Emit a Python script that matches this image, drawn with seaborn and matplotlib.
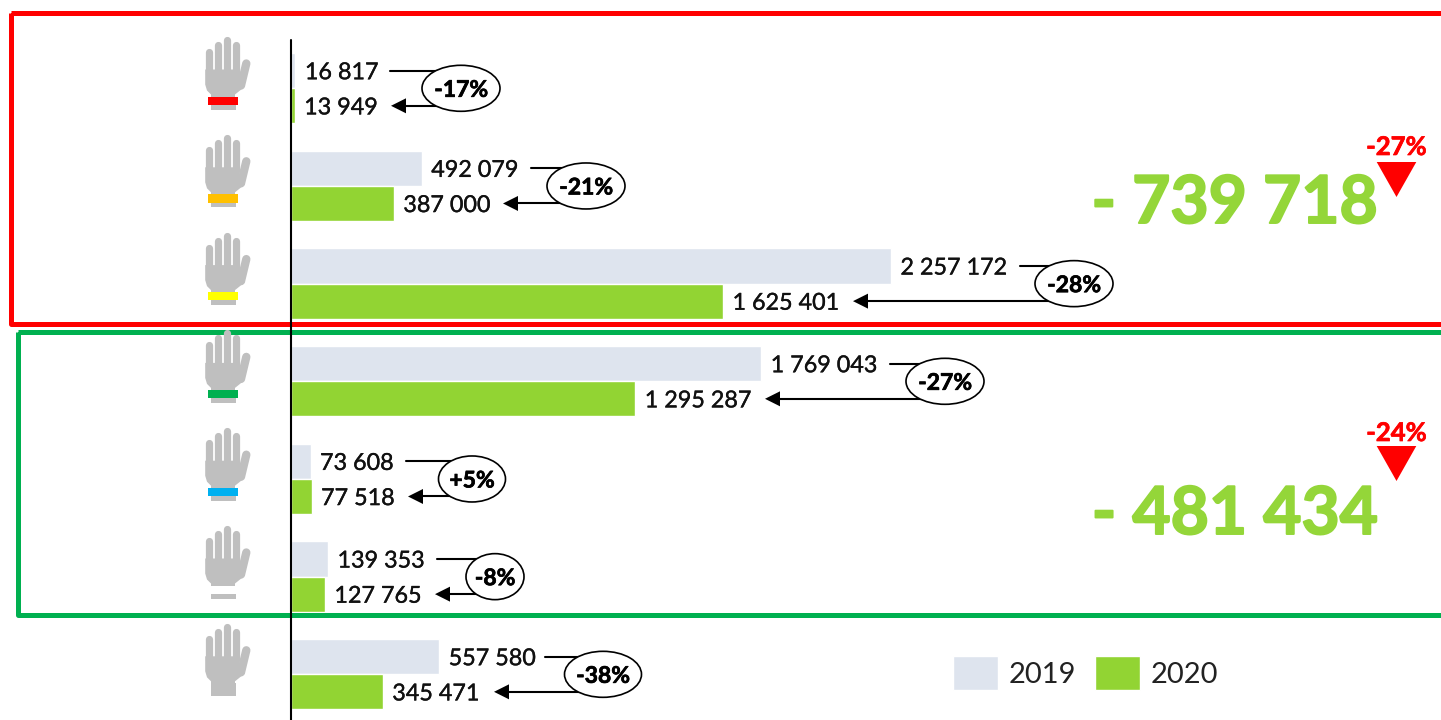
import pandas as pd
import matplotlib
matplotlib.use('Agg')
import matplotlib.pyplot as plt
import matplotlib.patheffects as pe
import seaborn as sns
from matplotlib.patches import Ellipse, Polygon, Rectangle
from matplotlib.transforms import Affine2D

# Values
bands = ['red', 'orange', 'yellow', 'green', 'blue', 'white', 'none']
values_2019 = [16817, 492079, 2257172, 1769043, 73608, 139353, 557580]
values_2020 = [13949, 387000, 1625401, 1295287, 77518, 127765, 345471]
changes = ['-17%', '-21%', '-28%', '-27%', '+5%', '-8%', '-38%']
totals = ['- 739 718', '- 481 434']
total_changes = ['-27%', '-24%']

# Colours
band_colors = ['#FF0000', '#FFC000', '#FFFF00', '#00B050', '#00B0F0', '#FFFFFF', None]
col_2019 = '#DEE4EE'
col_2020 = '#92D433'
col_total = '#94D639'
col_hand = '#BFBFBF'

# Annotation layout, in pixels of the final image
line_starts = [390, 531, 1020, 890, 406, 437, 545]
arrow_tips = [391, 503, 853, 765, 408, 435, 494]
ellipse_x = [461, 586, 1074, 945, 472, 495, 603]
ellipse_w = [78, 78, 78, 78, 67, 58, 77]

W, H = 1441, 720
ZERO_PX = 291
PX_PER_UNIT = 600 / 2257172
ROW_TOP = 88.3
ROW_PX = 97.67

df = pd.DataFrame({
    'band': bands * 2,
    'visits': values_2019 + values_2020,
    'year': ['2019'] * 7 + ['2020'] * 7,
})

sns.set_theme(style='white')
plt.rcParams['font.family'] = ['Lato', 'DejaVu Sans']

fig = plt.figure(figsize=(W / 100, H / 100), dpi=100)
ax = fig.add_axes([0, 0, 1, 1])

sns.barplot(data=df, y='band', x='visits', hue='year', order=bands,
            palette={'2019': col_2019, '2020': col_2020}, saturation=1,
            width=0.72, gap=0, ax=ax)

ax.set_xlim(-ZERO_PX / PX_PER_UNIT, (W - ZERO_PX) / PX_PER_UNIT)
ax.set_ylim((H - ROW_TOP) / ROW_PX, -ROW_TOP / ROW_PX)
ax.set_axis_off()

# image pixels, y going down
px = Affine2D().scale(1, -1).translate(0, H)


def heavy(width, color):
    # Lato bold is lighter than the original face
    return [pe.withStroke(linewidth=width, foreground=color)]


def draw_hand(dy, band):
    fingers = [(208.8, 52.5), (217.8, 45.5), (226.7, 40.5), (235.7, 45.5)]
    for fx, ftop in fingers:
        ax.plot([fx, fx], [ftop + dy, 74 + dy], color=col_hand, lw=5.2,
                solid_capstyle='round', transform=px, zorder=5)
    ax.plot([246.3, 241], [64 + dy, 86 + dy], color=col_hand, lw=6.0,
            solid_capstyle='round', transform=px, zorder=5)
    palm = [(205.2, 70), (239.4, 70), (239.4, 79), (245, 87), (235, 95), (235, 98),
            (211, 98), (211, 95), (207, 91), (205.2, 85)]
    ax.add_patch(Polygon([(x, y + dy) for x, y in palm], closed=True, fc=col_hand,
                         ec='none', transform=px, zorder=5))
    ax.add_patch(Rectangle((211, 97 + dy), 25, 13, fc=col_hand, ec='none',
                           transform=px, zorder=5))
    if band is not None:
        ax.add_patch(Rectangle((207.7, 97 + dy), 30.6, 8.3, fc=band, ec='none',
                               transform=px, zorder=6))


# Frames round the groups, open past the right edge
ax.add_patch(Rectangle((11, 12.7), W + 30, 311.3, fc='none', ec='#FF0000', lw=3.6,
                       joinstyle='round', transform=px, zorder=3))
ax.add_patch(Rectangle((18, 331.5), W + 30, 283, fc='none', ec='#00B050', lw=3.6,
                       joinstyle='round', transform=px, zorder=3))

# Baseline of the bars
ax.plot([ZERO_PX, ZERO_PX], [40, H], color='black', lw=1.5, transform=px, zorder=7)

for i, band in enumerate(bands):
    draw_hand(i * 97.8 - 0.5, band_colors[i])

    upper = i - 0.18
    lower = i + 0.18
    for val, ypos in [(values_2019[i], upper), (values_2020[i], lower)]:
        ax.annotate(f'{val:,}'.replace(',', ' '), xy=(val, ypos), xytext=(6.8, 0),
                    textcoords='offset points', va='center_baseline', ha='left',
                    fontsize=16.8, color='#111111', zorder=8,
                    path_effects=heavy(0.25, '#111111'))

    yc = ROW_TOP + i * ROW_PX
    ax.plot([line_starts[i], ellipse_x[i]], [yc - 17.5, yc - 17.5], color='black', lw=1.5,
            transform=px, zorder=4)
    tip = arrow_tips[i]
    ax.plot([tip + 10, ellipse_x[i]], [yc + 17.5, yc + 17.5], color='black', lw=1.5,
            transform=px, zorder=4)
    ax.add_patch(Polygon([(tip, yc + 17.5), (tip + 15, yc + 10), (tip + 15, yc + 25)],
                         closed=True, fc='black', ec='none', transform=px, zorder=4))
    ax.add_patch(Ellipse((ellipse_x[i], yc), ellipse_w[i], 46, fc='white', ec='black',
                         lw=1.2, transform=px, zorder=5))
    ax.text(ellipse_x[i], yc, changes[i], ha='center', va='center_baseline', fontsize=16.5,
            fontweight='bold', color='black', transform=px, zorder=6,
            path_effects=heavy(0.5, 'black'))

# Group totals
for total, change, base_y, tri_y, lab_y in zip(totals, total_changes, [223, 534], [162, 446], [145, 431]):
    ax.text(1378, base_y, total, ha='right', va='baseline', fontsize=47.5, fontweight='bold',
            color=col_total, transform=px, zorder=6,
            path_effects=heavy(1.4, col_total))
    ax.add_patch(Polygon([(1376.7, tri_y), (1416.3, tri_y), (1396.5, tri_y + 35)], closed=True,
                         fc='#FF0000', ec='none', transform=px, zorder=6))
    ax.text(1396.5, lab_y, change, ha='center', va='center_baseline', fontsize=18.5,
            fontweight='bold', color='#FF0000', transform=px, zorder=6,
            path_effects=heavy(0.5, '#FF0000'))

handles, labels = ax.get_legend_handles_labels()
ax.legend(handles, labels, loc='lower left', bbox_to_anchor=(953 / W, 1 - 690 / H),
          ncol=2, frameon=False, fontsize=21, borderpad=0, borderaxespad=0,
          handlelength=1.54, handleheight=1.42, handletextpad=0.38, columnspacing=0.62,
          labelcolor='#222222')

fig.savefig('out.png', dpi=100)
